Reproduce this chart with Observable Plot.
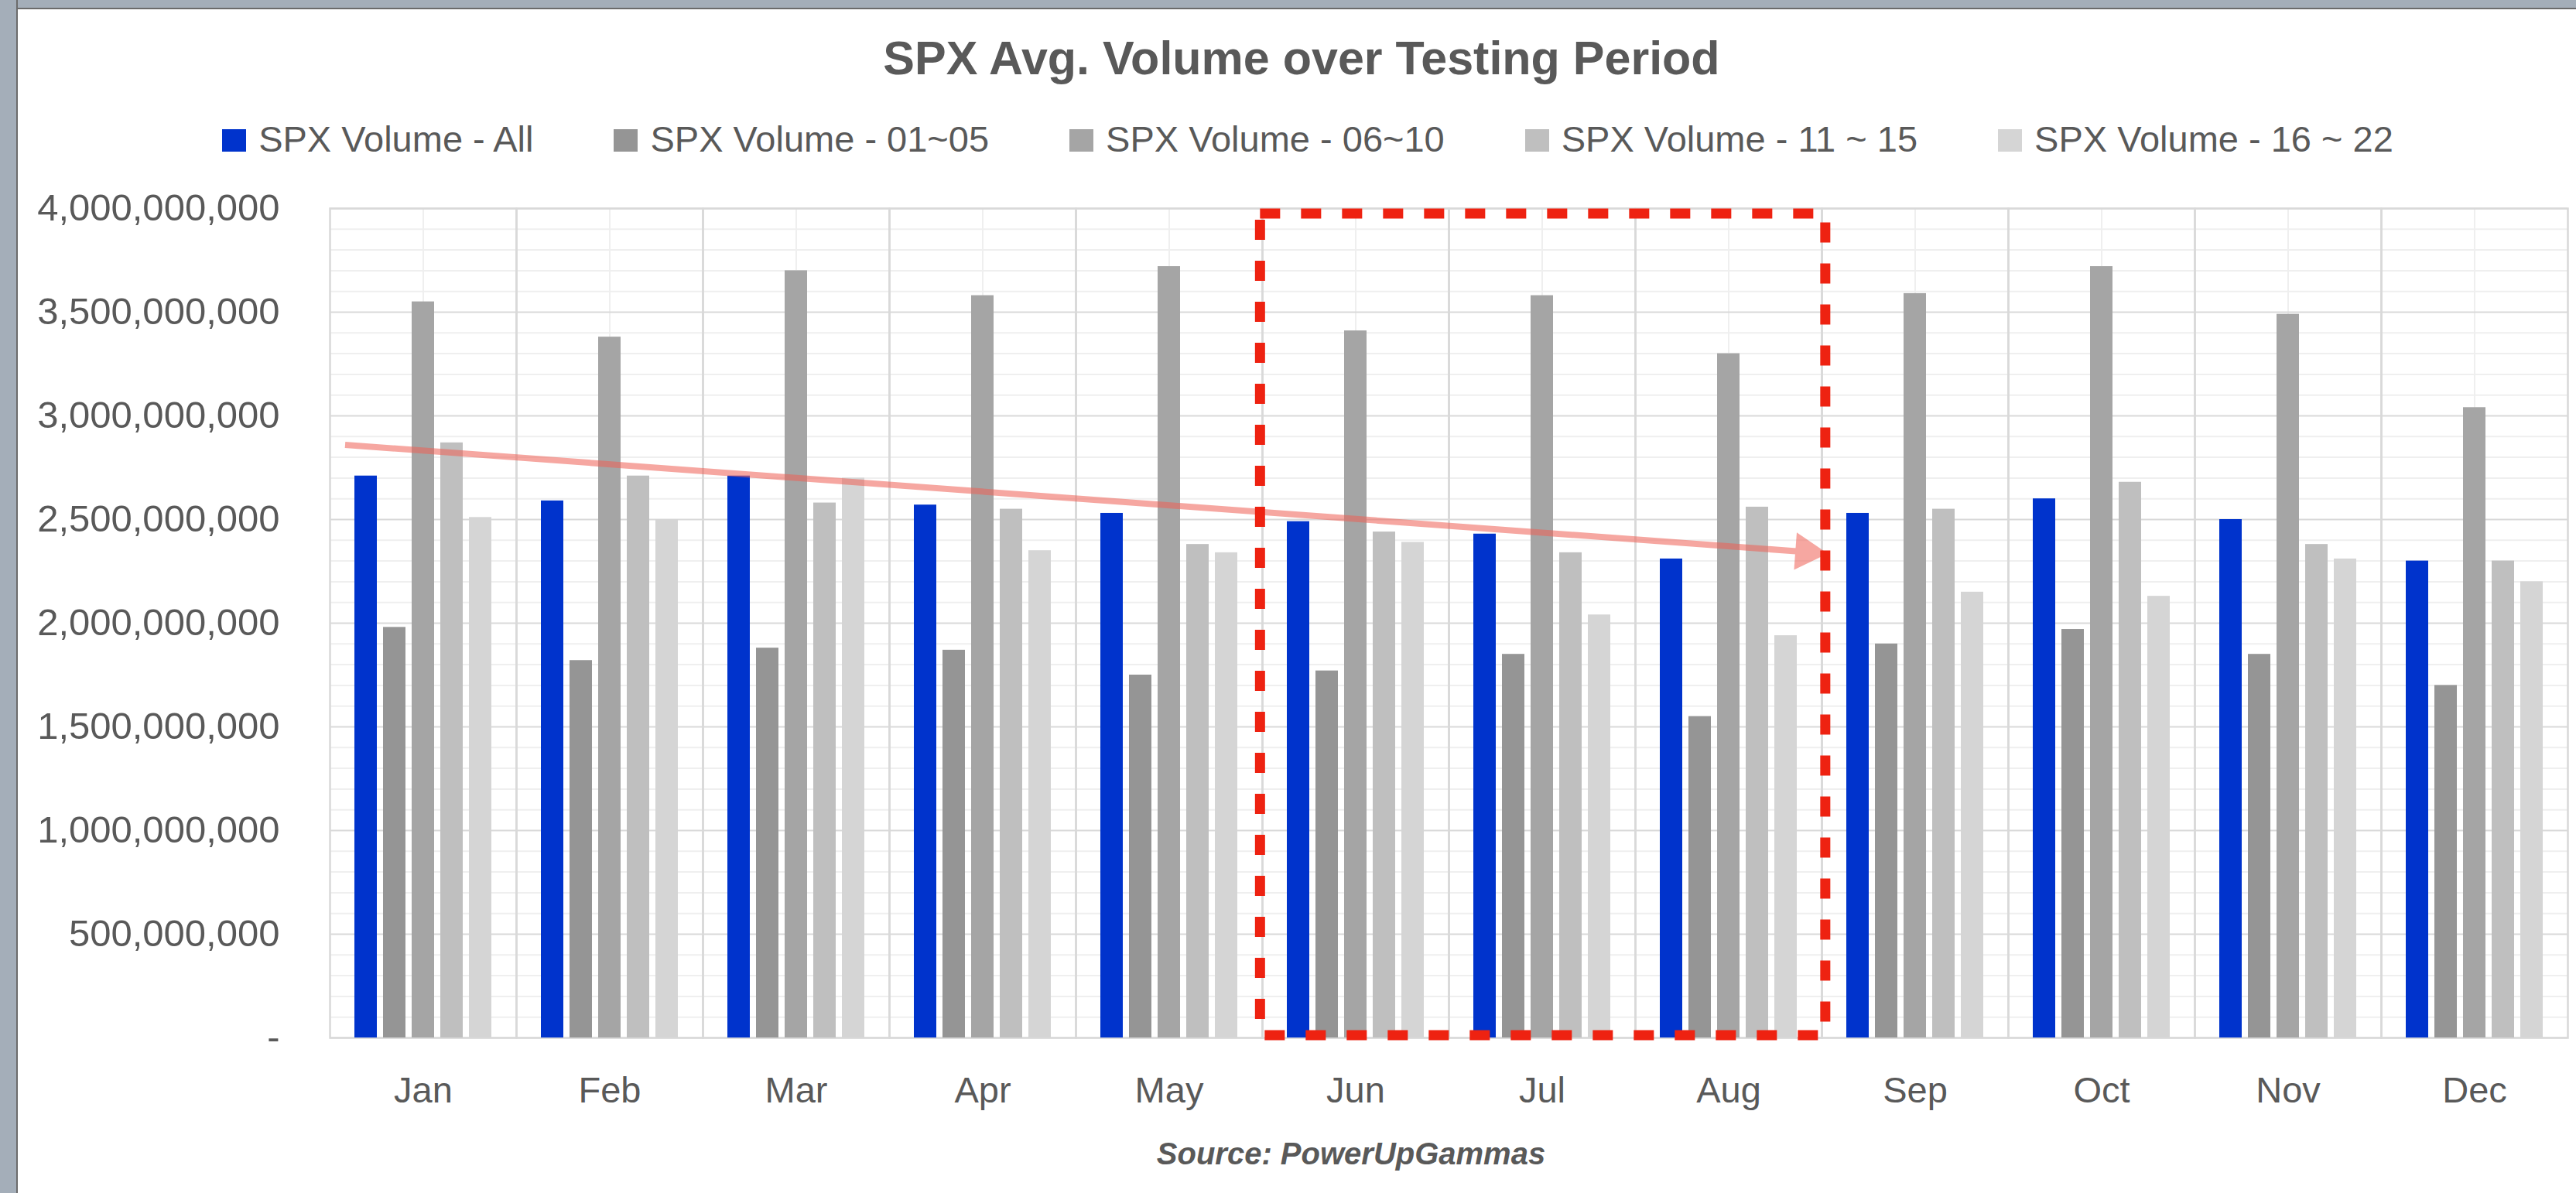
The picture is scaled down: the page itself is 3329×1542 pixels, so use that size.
<!DOCTYPE html>
<html>
<head>
<meta charset="utf-8">
<script src="https://cdn.jsdelivr.net/npm/d3@7"></script>
<script src="https://cdn.jsdelivr.net/npm/@observablehq/plot@0.6"></script>
<style>
html, body { margin: 0; padding: 0; background: #fff; }
#page { position: relative; width: 3329px; height: 1542px; overflow: hidden; background: #fff;
  font-family: "Liberation Sans", Arial, sans-serif; color: #595959; }
.bar-left { position: absolute; left: 0; top: 0; width: 21px; height: 1542px; background: #a4aeb9; border-right: 2px solid #6b6b6b; }
.bar-top { position: absolute; left: 0; top: 0; width: 3329px; height: 10px; background: #a4aeb9; border-bottom: 2px solid #6b6b6b; }
#title { position: absolute; left: 0; top: 45px; width: 3364px; text-align: center; font-size: 61px; line-height: 61px; font-weight: bold; }
#legend { position: absolute; left: 0; top: 156px; width: 3380px; display: flex; justify-content: center; align-items: flex-start; gap: 104px; font-size: 47px; line-height: 47px; }
#legend .item { display: flex; align-items: flex-start; white-space: nowrap; }
#legend .sw { width: 31px; height: 29px; margin-top: 11px; margin-right: 16px; }
#caption { position: absolute; left: 0; top: 1471px; width: 3492px; text-align: center; font-size: 40px; line-height: 40px; font-weight: bold; font-style: italic; }
.layer { position: absolute; left: 0; top: 220px; }
.layer svg { display: block; }
#chart [aria-label="fx-axis tick label"] { font-size: 47px; }
#arrowLayer { opacity: 0.55; }
</style>
</head>
<body>
<div id="page">
  <div class="bar-top"></div>
  <div class="bar-left"></div>
  <div id="title">SPX Avg. Volume over Testing Period</div>
  <div id="legend"></div>
  <div id="chart" class="layer"></div>
  <div id="arrowLayer" class="layer"></div>
  <div id="boxLayer" class="layer"></div>
  <div id="caption">Source: PowerUpGammas</div>
</div>
<script>
// ---------- data ----------
const months = ["Jan","Feb","Mar","Apr","May","Jun","Jul","Aug","Sep","Oct","Nov","Dec"];
const seriesNames = ["SPX Volume - All","SPX Volume - 01~05","SPX Volume - 06~10","SPX Volume - 11 ~ 15","SPX Volume - 16 ~ 22"];
const seriesColors = ["#0033cc","#959595","#a5a5a5","#bfbfbf","#d5d5d5"];

const volAll  = [2.71e9, 2.59e9, 2.71e9, 2.57e9, 2.53e9, 2.49e9, 2.43e9, 2.31e9, 2.53e9, 2.60e9, 2.50e9, 2.30e9];
const vol0105 = [1.98e9, 1.82e9, 1.88e9, 1.87e9, 1.75e9, 1.77e9, 1.85e9, 1.55e9, 1.90e9, 1.97e9, 1.85e9, 1.70e9];
const vol0610 = [3.55e9, 3.38e9, 3.70e9, 3.58e9, 3.72e9, 3.41e9, 3.58e9, 3.30e9, 3.59e9, 3.72e9, 3.49e9, 3.04e9];
const vol1115 = [2.87e9, 2.71e9, 2.58e9, 2.55e9, 2.38e9, 2.44e9, 2.34e9, 2.56e9, 2.55e9, 2.68e9, 2.38e9, 2.30e9];
const vol1622 = [2.51e9, 2.50e9, 2.70e9, 2.35e9, 2.34e9, 2.39e9, 2.04e9, 1.94e9, 2.15e9, 2.13e9, 2.31e9, 2.20e9];

const yTicks = [0, 5e8, 1e9, 1.5e9, 2e9, 2.5e9, 3e9, 3.5e9, 4e9];
const yMinorStep = 1e8;

// annotations (data units: month position 0..12, volume)
const trendArrow = [{x1: 0.085, y1: 2.86e9, x2: 8.03, y2: 2.336e9}];
const highlight = [{from: 5, to: 8, low: 0, high: 4e9}];

// ---------- build ----------
const seriesValues = [volAll, vol0105, vol0610, vol1115, vol1622];
const table = [];
months.forEach((m, i) => seriesNames.forEach((s, j) => table.push({month: m, series: s, value: seriesValues[j][i]})));
const minorTicks = d3.range(1, 40).map(k => k * yMinorStep).filter(v => !yTicks.includes(v));

// legend
const legend = document.getElementById("legend");
seriesNames.forEach((s, j) => {
  const it = document.createElement("div"); it.className = "item";
  const sw = document.createElement("div"); sw.className = "sw"; sw.style.background = seriesColors[j];
  const tx = document.createElement("span"); tx.textContent = s;
  it.appendChild(sw); it.appendChild(tx); legend.appendChild(it);
});

const W = 3329, H = 1231, MT = 49, MB = 110, ML = 425, MR = 10;
const fmt = d3.format(",");

const main = Plot.plot({
  width: W, height: H, marginTop: MT, marginBottom: MB, marginLeft: ML, marginRight: MR,
  style: {fontFamily: "Liberation Sans, Arial, sans-serif", fontSize: "49px", color: "#595959", background: "transparent", overflow: "visible"},
  fx: {domain: months, padding: 0, axis: "bottom", label: null, tickSize: 0, tickPadding: 50},
  x: {domain: seriesNames, axis: null, paddingInner: 0.2225, paddingOuter: 0.843},
  y: {domain: [0, 4e9], axis: "left", ticks: yTicks, tickFormat: d => d === 0 ? "-" : fmt(d), tickSize: 0, tickPadding: 65, label: null},
  color: {domain: seriesNames, range: seriesColors},
  marks: [
    Plot.ruleY(minorTicks, {stroke: "#efefef", strokeWidth: 2}),
    Plot.ruleX([seriesNames[2]], {stroke: "#efefef", strokeWidth: 2}),
    Plot.ruleY(yTicks, {stroke: "#d9d9d9", strokeWidth: 2}),
    Plot.frame({stroke: "#d9d9d9", strokeWidth: 2.5}),
    Plot.barY(table, {fx: "month", x: "series", y: "value", fill: "series"})
  ]
});
document.getElementById("chart").appendChild(main);

const common = {
  width: W, height: H, marginTop: MT, marginBottom: MB, marginLeft: ML, marginRight: MR,
  x: {domain: [0, 12], axis: null}, y: {domain: [0, 4e9], axis: null},
  style: {background: "transparent", overflow: "visible"}
};
const arrowSvg = Plot.plot({
  ...common,
  marks: [
    Plot.arrow(trendArrow, {x1: "x1", y1: "y1", x2: "x2", y2: "y2", stroke: "rgb(239,97,86)", strokeWidth: 8, headLength: 0, insetEnd: 24, strokeLinecap: "butt"}),
    Plot.dot(trendArrow, {x: "x2", y: "y2", symbol: "triangle", r: 18, fill: "rgb(239,97,86)", stroke: "none", rotate: 94.2, dx: -27.9, dy: -2.05})
  ]
});
document.getElementById("arrowLayer").appendChild(arrowSvg);

const boxSvg = Plot.plot({
  ...common,
  marks: [
    Plot.rect(highlight, {x1: "from", x2: "to", y1: "low", y2: "high", fill: "none", stroke: "#ee2211", strokeWidth: 13,
      strokeDasharray: "26,27", insetLeft: -2.5, insetRight: -4.5, insetTop: 7, insetBottom: 3})
  ]
});
document.getElementById("boxLayer").appendChild(boxSvg);
</script>
</body>
</html>
